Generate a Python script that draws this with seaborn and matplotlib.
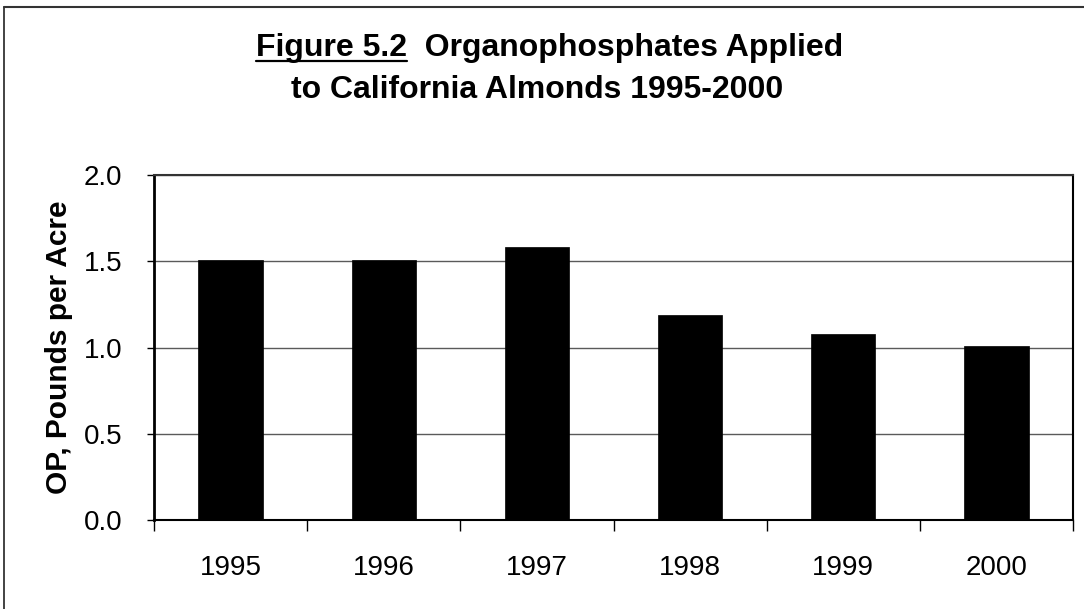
import matplotlib
matplotlib.use("Agg")
import matplotlib.pyplot as plt
from matplotlib.lines import Line2D
import seaborn as sns
import pandas as pd

# Organophosphate use on California almonds, pounds per acre
years = ["1995", "1996", "1997", "1998", "1999", "2000"]
op_lbs_per_acre = [1.51, 1.51, 1.58, 1.19, 1.08, 1.01]
y_ticks = [0.0, 0.5, 1.0, 1.5, 2.0]
y_tick_labels = ["0.0", "0.5", "1.0", "1.5", "2.0"]

title_line1_lead = "Figure 5.2"
title_line1_rest = "  Organophosphates Applied"
title_line2 = "to California Almonds 1995-2000"
y_label = "OP, Pounds per Acre"

df = pd.DataFrame({"year": years, "op": op_lbs_per_acre})

sns.set_theme(style="white")
plt.rcParams["font.family"] = ["Liberation Sans", "DejaVu Sans"]
plt.rcParams.update({
    "text.color": "black",
    "axes.labelcolor": "black",
    "xtick.color": "black",
    "ytick.color": "black",
})

W, H, DPI = 1084, 609, 100
fig = plt.figure(figsize=(W / DPI, H / DPI), dpi=DPI)
fig.patch.set_facecolor("white")

ax = fig.add_axes([154 / W, 1 - 520 / H, (1073 - 154) / W, (520 - 175) / H])

sns.barplot(data=df, x="year", y="op", color="black", saturation=1,
            width=0.42, edgecolor="black", linewidth=0.5, ax=ax, zorder=3)

ax.set_ylim(0, 2.0)
ax.set_xlim(-0.5, len(years) - 0.5)

# horizontal gridlines
ax.yaxis.grid(True, color="#5a5a5a", linewidth=1.0, zorder=0)
ax.xaxis.grid(False)
ax.set_axisbelow(True)

# y axis ticks and labels
ax.set_yticks(y_ticks)
ax.set_yticklabels(y_tick_labels)
ax.tick_params(axis="y", which="major", direction="out", length=5, width=1,
               color="black", labelcolor="black", labelsize=20, pad=18, left=True)

# x axis: tick marks at category boundaries, labels at bar centres
ax.set_xticks([i - 0.5 for i in range(len(years) + 1)])
ax.set_xticklabels([])
ax.set_xticks(list(range(len(years))), minor=True)
ax.set_xticklabels(years, minor=True)
ax.tick_params(axis="x", which="major", direction="out", length=8, width=1,
               color="black", bottom=True)
ax.tick_params(axis="x", which="minor", length=0, labelsize=20, pad=25,
               labelcolor="black")

ax.set_xlabel("")
ax.set_ylabel(y_label, fontsize=21.5, fontweight="bold", labelpad=0,
              color="black")
ax.yaxis.set_label_coords(-0.088, 0.5)

for side, lw in {"left": 2.0, "bottom": 1.5, "top": 1.5, "right": 1.5}.items():
    ax.spines[side].set_visible(True)
    ax.spines[side].set_color("black")
    ax.spines[side].set_linewidth(lw)
ax.spines["top"].set_color("#333333")

# title in two lines, with the figure number underlined
title_size = 23
t1 = fig.text(550 / W, 1 - 56 / H, title_line1_lead + title_line1_rest,
              ha="center", va="baseline", fontsize=title_size,
              fontweight="bold", color="black")
fig.text(537 / W, 1 - 98 / H, title_line2, ha="center", va="baseline",
         fontsize=title_size, fontweight="bold", color="black")

fig.canvas.draw()
renderer = fig.canvas.get_renderer()
bb_full = t1.get_window_extent(renderer)
probe = fig.text(0, 0, title_line1_lead, fontsize=title_size, fontweight="bold")
bb_lead = probe.get_window_extent(renderer)
probe.remove()
x0 = bb_full.x0
x1 = x0 + bb_lead.width
uy = (H - 61)
fig.add_artist(Line2D([x0 / W, x1 / W], [uy / H, uy / H], transform=fig.transFigure,
                      color="black", linewidth=1.6))

# outer frame of the figure
fig.add_artist(Line2D([4 / W, 4 / W], [0, 1 - 7 / H], transform=fig.transFigure,
                      color="#222222", linewidth=1.2))
fig.add_artist(Line2D([4 / W, 1], [1 - 7 / H, 1 - 7 / H], transform=fig.transFigure,
                      color="#333333", linewidth=1.5))

fig.savefig("out.png", dpi=DPI, facecolor="white")
